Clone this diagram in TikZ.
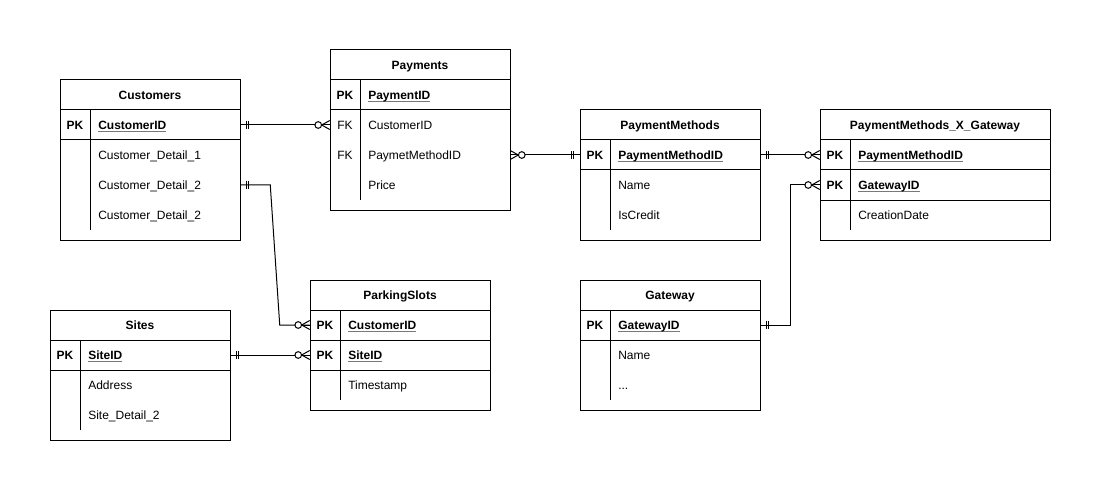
\documentclass[tikz,border=0pt]{standalone}
\usepackage{fontspec}
\setmainfont{Liberation Sans}
\usetikzlibrary{calc}
\definecolor{ulgray}{RGB}{120,120,120}
\def\px{0.75pt}
\newcommand\ulk[1]{\setbox0\hbox{#1}\rlap{\color{ulgray}\rule[-1.9pt]{\wd0}{0.95pt}}\box0}
\tikzset{
  erline/.style={line width=0.75pt, draw=black},
  tbox/.style={erline, rectangle, inner sep=0pt, fill=white},
  ttl/.style={inner sep=0pt, font=\fontsize{9}{11}\selectfont\bfseries, text height=6.5pt, text depth=0pt},
  rowbox/.style={rectangle, inner sep=0pt, minimum height=30*\px},
  keyt/.style={inner sep=0pt, font=\fontsize{9}{11}\selectfont, text height=6.5pt, text depth=0pt},
  fldt/.style={inner sep=0pt, anchor=west, font=\fontsize{9}{11}\selectfont, text height=6.5pt, text depth=0pt},
  conn/.style={erline},
  erone/.pic={\draw[erline] (6,-4) -- (6,4); \draw[erline] (8,-4) -- (8,4);},
  ermany/.pic={\draw[erline] (0,-4.5) -- (8,0) -- (0,4.5); \draw[erline] (0,0) -- (8,0);
               \draw[erline, fill=white] (11.5,0) circle (2.5pt);},
}
% #1 name, #2 x, #3 y top, #4 w, #5 h, #6 title
\newcommand\erbox[6]{%
  \node[tbox, minimum width=#4*\px, minimum height=#5*\px] (#1) at (#2+#4/2,#3+#5/2) {};
  \node[ttl] (#1-t) at (#2+#4/2,#3+15.5) {#6};
  \draw[erline] (#2,#3+30) -- (#2+#4,#3+30);
}
% #1 name, #2 x, #3 y top of row, #4 w, #5 key, #6 field
\newcommand\errow[6]{%
  \node[rowbox, minimum width=#4*\px] (#1) at (#2+#4/2,#3+15) {};
  \node[keyt] (#1-k) at (#2+15,#3+15.5) {#5};
  \node[fldt] (#1-f) at (#2+38,#3+15.5) {#6};
}
\begin{document}
\begin{tikzpicture}[x=0.75pt,y=-0.75pt]
\useasboundingbox[fill=white] (0,0) rectangle (1101,492);

% Customers
\erbox{cust}{60}{80}{180}{160}{Customers}
\errow{cust-1}{60}{110}{180}{\bfseries PK}{\bfseries\ulk{CustomerID}}
\errow{cust-2}{60}{140}{180}{}{Customer\_Detail\_1}
\errow{cust-3}{60}{170}{180}{}{Customer\_Detail\_2}
\errow{cust-4}{60}{200}{180}{}{Customer\_Detail\_2}
\draw[erline] (60,140) -- (240,140);
\draw[erline] (90,110) -- (90,230);

% Payments
\erbox{pay}{330}{50}{180}{160}{Payments}
\errow{pay-1}{330}{80}{180}{\bfseries PK}{\bfseries\ulk{PaymentID}}
\errow{pay-2}{330}{110}{180}{FK}{CustomerID}
\errow{pay-3}{330}{140}{180}{FK}{PaymetMethodID}
\errow{pay-4}{330}{170}{180}{}{Price}
\draw[erline] (330,110) -- (510,110);
\draw[erline] (360,80) -- (360,200);

% PaymentMethods
\erbox{pm}{580}{110}{180}{130}{PaymentMethods}
\errow{pm-1}{580}{140}{180}{\bfseries PK}{\bfseries\ulk{PaymentMethodID}}
\errow{pm-2}{580}{170}{180}{}{Name}
\errow{pm-3}{580}{200}{180}{}{IsCredit}
\draw[erline] (580,170) -- (760,170);
\draw[erline] (610,140) -- (610,230);

% PaymentMethods_X_Gateway
\erbox{px}{820}{110}{230}{130}{PaymentMethods\_X\_Gateway}
\errow{px-1}{820}{140}{230}{\bfseries PK}{\bfseries\ulk{PaymentMethodID}}
\errow{px-2}{820}{170}{230}{\bfseries PK}{\bfseries\ulk{GatewayID}}
\errow{px-3}{820}{200}{230}{}{CreationDate}
\draw[erline] (820,170) -- (1050,170);
\draw[erline] (820,200) -- (1050,200);
\draw[erline] (850,140) -- (850,230);

% Gateway
\erbox{gw}{580}{280}{180}{130}{Gateway}
\errow{gw-1}{580}{310}{180}{\bfseries PK}{\bfseries\ulk{GatewayID}}
\errow{gw-2}{580}{340}{180}{}{Name}
\errow{gw-3}{580}{370}{180}{}{...}
\draw[erline] (580,340) -- (760,340);
\draw[erline] (610,310) -- (610,400);

% Sites
\erbox{site}{50}{310}{180}{130}{Sites}
\errow{site-1}{50}{340}{180}{\bfseries PK}{\bfseries\ulk{SiteID}}
\errow{site-2}{50}{370}{180}{}{Address}
\errow{site-3}{50}{400}{180}{}{Site\_Detail\_2}
\draw[erline] (50,370) -- (230,370);
\draw[erline] (80,340) -- (80,430);

% ParkingSlots
\erbox{ps}{310}{280}{180}{130}{ParkingSlots}
\errow{ps-1}{310}{310}{180}{\bfseries PK}{\bfseries\ulk{CustomerID}}
\errow{ps-2}{310}{340}{180}{\bfseries PK}{\bfseries\ulk{SiteID}}
\errow{ps-3}{310}{370}{180}{}{Timestamp}
\draw[erline] (310,340) -- (490,340);
\draw[erline] (310,370) -- (490,370);
\draw[erline] (340,310) -- (340,400);

% Connectors
\draw[conn] (cust-1.east) -- (pay-2.west);
\draw[conn] (pay-3.east) -- (pm-1.west);
\draw[conn] (pm-1.east) -- (px-1.west);
\draw[conn] (gw-1.east) -- ++(30,0) |- (px-2.west);
\draw[conn] (cust-3.east) -- ++(30,0) -- ($(ps-1.west)+(-30,0)$) -- (ps-1.west);
\draw[conn] (site-1.east) -- (ps-2.west);

% Markers
\pic at (cust-1.east) {erone};
\pic[rotate=180] at (pay-2.west) {ermany};
\pic at (pay-3.east) {ermany};
\pic[rotate=180] at (pm-1.west) {erone};
\pic at (pm-1.east) {erone};
\pic[rotate=180] at (px-1.west) {ermany};
\pic at (gw-1.east) {erone};
\pic[rotate=180] at (px-2.west) {ermany};
\pic at (cust-3.east) {erone};
\pic[rotate=180] at (ps-1.west) {ermany};
\pic at (site-1.east) {erone};
\pic[rotate=180] at (ps-2.west) {ermany};
\end{tikzpicture}
\end{document}
